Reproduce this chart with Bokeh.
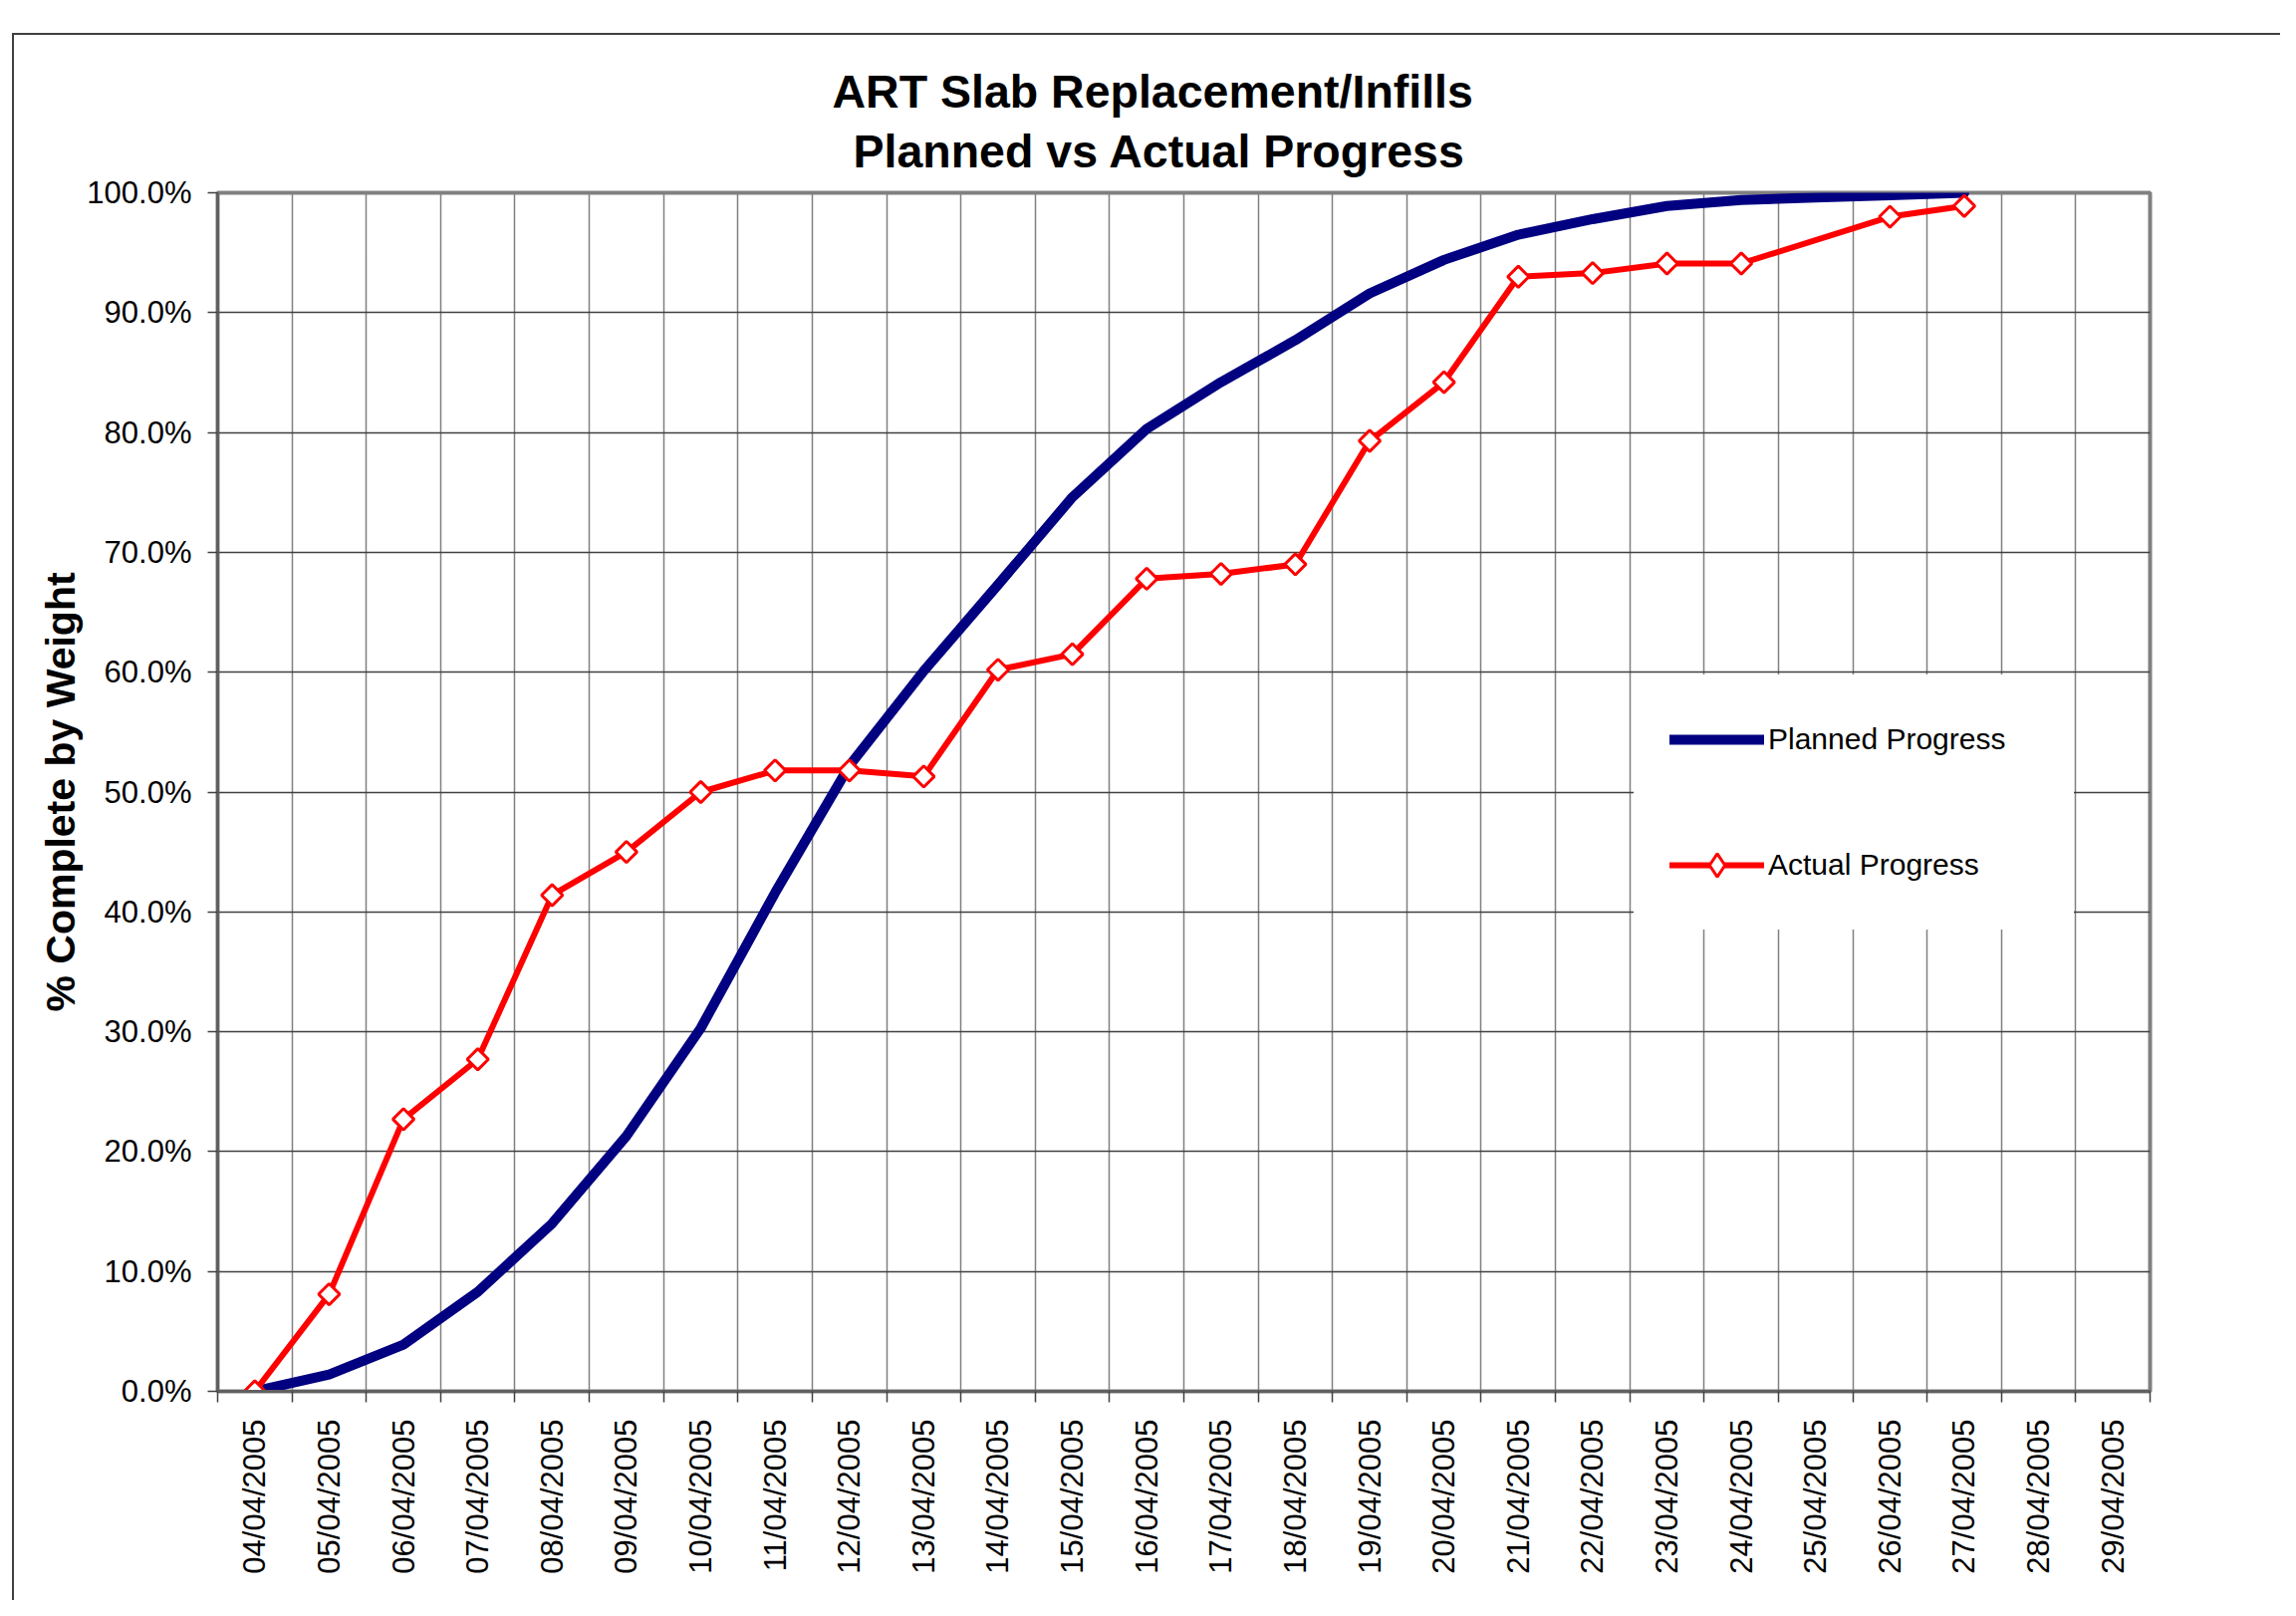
import math
from bokeh.plotting import figure
from bokeh.models import (FixedTicker, Legend, LegendItem, Title, Range1d)
from bokeh.embed import file_html
from bokeh.resources import INLINE

# ---------------- data ----------------
dates = ["04/04/2005", "05/04/2005", "06/04/2005", "07/04/2005", "08/04/2005",
         "09/04/2005", "10/04/2005", "11/04/2005", "12/04/2005", "13/04/2005",
         "14/04/2005", "15/04/2005", "16/04/2005", "17/04/2005", "18/04/2005",
         "19/04/2005", "20/04/2005", "21/04/2005", "22/04/2005", "23/04/2005",
         "24/04/2005", "25/04/2005", "26/04/2005", "27/04/2005", "28/04/2005",
         "29/04/2005"]

planned_dates = dates[:24]
planned = [0.0, 1.4, 3.9, 8.3, 14.0, 21.3, 30.3, 41.6, 52.2, 60.1,
           67.3, 74.6, 80.3, 84.2, 87.7, 91.6, 94.4, 96.5, 97.8, 98.9,
           99.4, 99.6, 99.8, 100.0]

actual_dates = ["04/04/2005", "05/04/2005", "06/04/2005", "07/04/2005", "08/04/2005",
                "09/04/2005", "10/04/2005", "11/04/2005", "12/04/2005", "13/04/2005",
                "14/04/2005", "15/04/2005", "16/04/2005", "17/04/2005", "18/04/2005",
                "19/04/2005", "20/04/2005", "21/04/2005", "22/04/2005", "23/04/2005",
                "24/04/2005", "26/04/2005", "27/04/2005"]
actual = [0.0, 8.1, 22.7, 27.7, 41.4, 45.0, 50.0, 51.8, 51.8, 51.3,
          60.2, 61.5, 67.8, 68.2, 69.0, 79.3, 84.2, 93.0, 93.3, 94.1,
          94.1, 98.0, 98.9]

y_ticks = [0, 10, 20, 30, 40, 50, 60, 70, 80, 90, 100]

title_line1 = "ART Slab Replacement/Infills"
title_line2 = "Planned vs Actual Progress"
y_label = "% Complete by Weight"

# ---------------- figure ----------------
W, H = 2289, 1606
FONT = "Liberation Sans"

p = figure(width=W, height=H, output_backend="svg", toolbar_location=None,
           x_range=Range1d(-0.5, len(dates) - 0.5), y_range=Range1d(0, 100),
           min_border_left=218, min_border_right=131,
           min_border_top=193, min_border_bottom=210)
p.background_fill_color = "white"
p.border_fill_color = "white"
p.border_fill_alpha = 0.0
p.outline_line_color = "#808080"
p.outline_line_width = 4
# outer chart-area border (drawn behind the transparent canvas border area)
p.styles = {
    "background-color": "white",
    "background-image": "linear-gradient(#404040, #404040), linear-gradient(#404040, #404040)",
    "background-position": "12px 33px, 12px 33px",
    "background-size": "100% 2px, 2px 100%",
    "background-repeat": "no-repeat",
}

centers = list(range(len(dates)))
bounds = [i - 0.5 for i in range(len(dates) + 1)]

# x axis
p.xaxis.ticker = FixedTicker(ticks=centers, minor_ticks=bounds)
p.xaxis.major_label_overrides = {i: d for i, d in enumerate(dates)}
p.xaxis.major_label_orientation = math.pi / 2
p.xaxis.major_tick_out = 0
p.xaxis.major_tick_in = 0
p.xaxis.minor_tick_out = 11
p.xaxis.minor_tick_in = 0
p.xaxis.minor_tick_line_color = "#404040"
p.xaxis.minor_tick_line_width = 1.5
p.xaxis.major_label_standoff = 17
p.xaxis.major_label_text_font = FONT
p.xaxis.major_label_text_font_size = "31px"
p.xaxis.major_label_text_color = "black"
p.xaxis.axis_line_color = "#606060"
p.xaxis.axis_line_width = 3

# y axis
p.yaxis.ticker = FixedTicker(ticks=y_ticks)
p.yaxis.major_label_overrides = {v: f"{v:.1f}%" for v in y_ticks}
p.yaxis.major_tick_out = 10
p.yaxis.major_tick_in = 0
p.yaxis.major_tick_line_color = "#404040"
p.yaxis.major_tick_line_width = 1.5
p.yaxis.minor_tick_out = 0
p.yaxis.minor_tick_in = 0
p.yaxis.major_label_standoff = 16
p.yaxis.major_label_text_font = FONT
p.yaxis.major_label_text_font_size = "31px"
p.yaxis.major_label_text_color = "black"
p.yaxis.axis_line_color = "#606060"
p.yaxis.axis_line_width = 3
p.yaxis.axis_label = y_label
p.yaxis.axis_label_text_font = FONT
p.yaxis.axis_label_text_font_size = "41px"
p.yaxis.axis_label_text_font_style = "bold"
p.yaxis.axis_label_text_color = "black"
p.yaxis.axis_label_standoff = 0

# grids
p.xgrid.ticker = FixedTicker(ticks=bounds)
p.xgrid.grid_line_color = "#808080"
p.xgrid.grid_line_width = 1.5
p.ygrid.grid_line_color = "#404040"
p.ygrid.grid_line_width = 1.5

# ---------------- series ----------------
px = [dates.index(d) for d in planned_dates]
ax = [dates.index(d) for d in actual_dates]

planned_r = p.line(px, planned, line_color="#000080", line_width=10,
                   line_join="round", line_cap="round")
actual_line = p.line(ax, actual, line_color="#FF0000", line_width=6,
                     line_join="round", line_cap="round")
actual_pts = p.scatter(ax, actual, marker="square", angle=math.pi / 4, size=15,
                       fill_color="white", line_color="#FF0000", line_width=3)
# legend-only diamond glyph (legend ignores marker rotation); its single point
# lies outside the visible ranges, so it is clipped from the plot area
legend_diamond = p.scatter([-10], [-10], marker="diamond", size=23,
                           fill_color="white", line_color="#FF0000", line_width=3)

legend = Legend(items=[LegendItem(label="Planned Progress", renderers=[planned_r]),
                       LegendItem(label="Actual Progress", renderers=[actual_line, legend_diamond])],
                location=(1422, 463), orientation="vertical",
                glyph_width=95, glyph_height=58, label_height=58,
                spacing=68, padding=36, label_standoff=4, label_width=271,
                label_text_font=FONT, label_text_font_size="30px",
                label_text_color="black", border_line_alpha=0,
                background_fill_color="white", background_fill_alpha=1.0, margin=0)
p.add_layout(legend)

# ---------------- titles ----------------
p.title.text = title_line1
p.title.align = "left"
p.title.offset = 617
try:
    p.title.standoff = -20
except Exception:
    p.title.standoff = 0
p.title.text_font = FONT
p.title.text_font_size = "46.5px"
p.title.text_font_style = "bold"
p.title.text_color = "black"
p.add_layout(Title(text=title_line2, align="left", offset=638, standoff=32,
                   text_font=FONT, text_font_size="46.5px", text_font_style="bold",
                   text_color="black"), "above")

open("out.html", "w").write(file_html(p, INLINE))
